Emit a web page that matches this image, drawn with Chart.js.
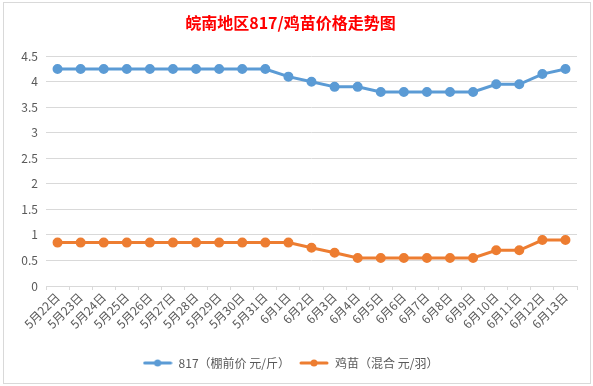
<!DOCTYPE html>
<html>
<head>
<meta charset="utf-8">
<script src="https://cdn.jsdelivr.net/npm/chart.js@4/dist/chart.umd.min.js"></script>
<style>
html,body{margin:0;padding:0;background:#fff;}
#wrap{position:absolute;left:3px;top:2px;width:586px;height:380px;border:1px solid #d9d9d9;background:#fff;}
canvas{display:block;}
</style>
</head>
<body>
<div id="wrap"><canvas id="c" width="586" height="380"></canvas></div>
<script>
const categories = ["5月22日","5月23日","5月24日","5月25日","5月26日","5月27日","5月28日","5月29日","5月30日","5月31日","6月1日","6月2日","6月3日","6月4日","6月5日","6月6日","6月7日","6月8日","6月9日","6月10日","6月11日","6月12日","6月13日"];
const price817 = [4.25,4.25,4.25,4.25,4.25,4.25,4.25,4.25,4.25,4.25,4.1,4.0,3.9,3.9,3.8,3.8,3.8,3.8,3.8,3.95,3.95,4.15,4.25];
const chickPrice = [0.85,0.85,0.85,0.85,0.85,0.85,0.85,0.85,0.85,0.85,0.85,0.75,0.65,0.55,0.55,0.55,0.55,0.55,0.55,0.7,0.7,0.9,0.9];
const seriesNames = ["817（棚前价 元/斤）","鸡苗（混合 元/羽）"];
const titleText = "皖南地区817/鸡苗价格走势图";
const blue = "#5b9bd5", orange = "#ed7d31";

function legendIcon(color){
  const c = document.createElement('canvas');
  c.width = 30; c.height = 10;
  const g = c.getContext('2d');
  g.strokeStyle = color; g.lineWidth = 3; g.lineCap = 'round';
  g.beginPath(); g.moveTo(2,5); g.lineTo(28,5); g.stroke();
  g.fillStyle = color; g.beginPath(); g.arc(15,5,3.5,0,Math.PI*2); g.fill();
  return c;
}
const icons = [legendIcon(blue), legendIcon(orange)];
const font = "'Noto Sans CJK SC','Noto Sans',sans-serif";

new Chart(document.getElementById('c'), {
  type: 'line',
  data: {
    labels: categories,
    datasets: [
      {label: seriesNames[0], data: price817, borderColor: blue, backgroundColor: blue, borderWidth: 3, pointRadius: 3.5, pointBackgroundColor: blue, pointBorderColor: blue, tension: 0},
      {label: seriesNames[1], data: chickPrice, borderColor: orange, backgroundColor: orange, borderWidth: 3, pointRadius: 3.5, pointBackgroundColor: orange, pointBorderColor: orange, tension: 0}
    ]
  },
  options: {
    responsive: false,
    animation: false,
    devicePixelRatio: 1,
    layout: {padding: {left: 0, right: 13, top: 0, bottom: 4}},
    plugins: {
      title: {display: true, text: titleText, color: '#ff0000', font: {family: font, size: 16, weight: 'bold'}, padding: {top: 10, bottom: 24}},
      legend: {
        position: 'bottom',
        labels: {
          color: '#595959',
          font: {family: font, size: 12},
          usePointStyle: true,
          pointStyleWidth: 30,
          padding: 9,
          generateLabels(chart){
            return chart.data.datasets.map((d,i)=>({text: d.label, pointStyle: icons[i], fillStyle: d.borderColor, strokeStyle: d.borderColor, lineWidth: 0, datasetIndex: i, fontColor: '#595959'}));
          }
        }
      },
      tooltip: {enabled: false}
    },
    scales: {
      x: {
        offset: true,
        grid: {display: true, drawOnChartArea: false, drawTicks: true, tickLength: 4, offset: true, color: '#d9d9d9'},
        border: {display: true, color: '#d9d9d9'},
        ticks: {color: '#595959', font: {family: font, size: 12}, minRotation: 45, maxRotation: 45, autoSkip: false, padding: 0},
        afterFit(s){ s.height = 62; }
      },
      y: {
        min: 0, max: 4.5,
        ticks: {stepSize: 0.5, color: '#595959', font: {family: font, size: 12}, padding: 8, callback: v => String(v)},
        grid: {color: '#d9d9d9', drawTicks: false},
        border: {display: false},
        afterFit(s){ s.width = 42; }
      }
    }
  }
});
</script>
</body>
</html>
